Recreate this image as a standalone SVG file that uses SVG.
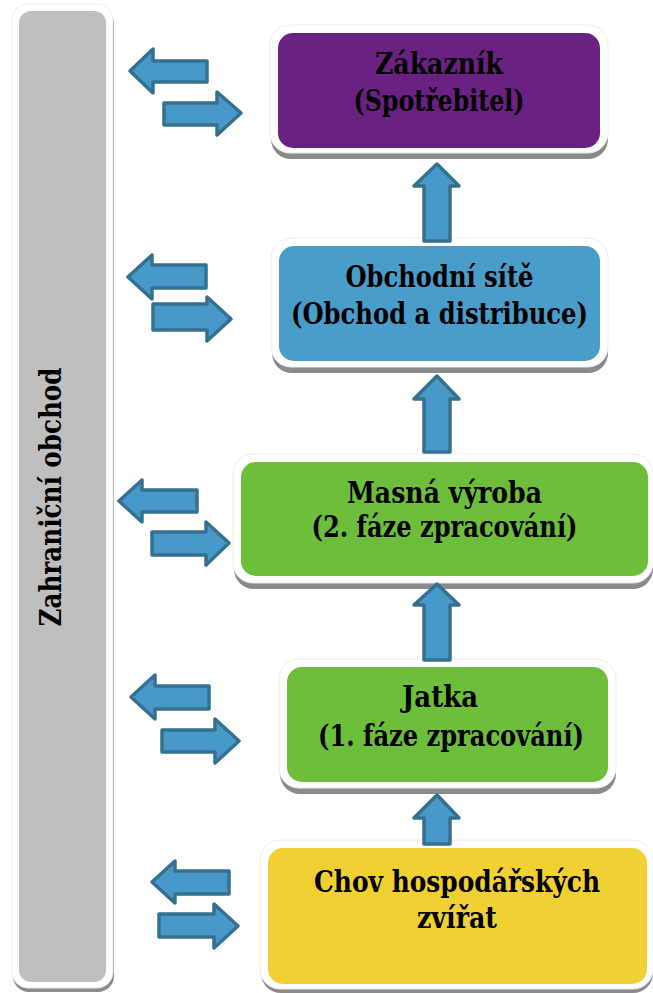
<svg xmlns="http://www.w3.org/2000/svg" width="653" height="993" viewBox="0 0 653 993">
<defs>
<style>
.frame{fill:#ffffff;stroke:#ececec;stroke-width:1}
.shadow{fill:#8a8a8a}
.t{font-family:"DejaVu Serif",serif;font-weight:bold;font-size:29px;fill:#000000;text-anchor:middle}
.arr{fill:#4899C9;stroke:#34708F;stroke-width:3.5;stroke-linejoin:round}
</style>
</defs>
<rect width="653" height="993" fill="#ffffff"/>
<g id="zahranicni">
<rect class="shadow" x="13" y="8" width="101" height="984" rx="16"/>
<rect class="frame" x="12" y="4" width="101" height="984" rx="16"/>
<rect x="19" y="11" width="87" height="971" rx="12" fill="#BFBFBF"/>
<text class="t" transform="translate(61,497) rotate(-90)" textLength="259" lengthAdjust="spacingAndGlyphs">Zahraniční obchod</text>
</g>
<g id="zakaznik">
<rect class="shadow" x="271" y="30" width="337" height="129" rx="20"/>
<rect class="frame" x="270" y="25" width="338" height="128" rx="20"/>
<rect x="278" y="33" width="322" height="115" rx="15" fill="#6B2182"/>
<text class="t" x="439" y="74" textLength="128" lengthAdjust="spacingAndGlyphs">Zákazník</text>
<text class="t" x="439" y="111" textLength="171" lengthAdjust="spacingAndGlyphs">(Spotřebitel)</text>
</g>
<g id="obchodni-site">
<rect class="shadow" x="272" y="243" width="336" height="130" rx="20"/>
<rect class="frame" x="271" y="238" width="337" height="129" rx="20"/>
<rect x="279" y="246" width="321" height="115" rx="15" fill="#4A9CCB"/>
<text class="t" x="439.5" y="287" textLength="188" lengthAdjust="spacingAndGlyphs">Obchodní sítě</text>
<text class="t" x="439.5" y="324" textLength="297" lengthAdjust="spacingAndGlyphs">(Obchod a distribuce)</text>
</g>
<g id="masna-vyroba">
<rect class="shadow" x="234" y="459" width="419" height="130" rx="20"/>
<rect class="frame" x="233" y="454" width="420" height="129" rx="20"/>
<rect x="241" y="462" width="407" height="114" rx="15" fill="#6DBE3A"/>
<text class="t" x="444.5" y="503" textLength="195" lengthAdjust="spacingAndGlyphs">Masná výroba</text>
<text class="t" x="444.5" y="537" textLength="266" lengthAdjust="spacingAndGlyphs">(2. fáze zpracování)</text>
</g>
<g id="jatka">
<rect class="shadow" x="280" y="664" width="336" height="130" rx="20"/>
<rect class="frame" x="279" y="659" width="337" height="129" rx="20"/>
<rect x="287" y="667" width="321" height="115" rx="15" fill="#6DBE3A"/>
<text class="t" x="440" y="707" textLength="76" lengthAdjust="spacingAndGlyphs">Jatka</text>
<text class="t" x="451" y="746" textLength="266" lengthAdjust="spacingAndGlyphs">(1. fáze zpracování)</text>
</g>
<g id="chov">
<rect class="shadow" x="261" y="845" width="392" height="148" rx="20"/>
<rect class="frame" x="260" y="840" width="393" height="149" rx="20"/>
<rect x="268" y="848" width="379" height="136" rx="15" fill="#F0D032"/>
<text class="t" x="457" y="892" textLength="286" lengthAdjust="spacingAndGlyphs">Chov hospodářských</text>
<text class="t" x="457" y="928" textLength="80" lengthAdjust="spacingAndGlyphs">zvířat</text>
</g>
<g id="connectors">
<path class="arr" d="M130,71 L153,49 L153,61 L207,61 L207,82 L153,82 L153,93 Z"/>
<path class="arr" d="M164,103 L217,103 L217,92 L241,113 L217,135 L217,125 L164,125 Z"/>
<path class="arr" d="M128,277 L152,255 L152,265 L206,265 L206,288 L152,288 L152,299 Z"/>
<path class="arr" d="M153,304 L207,304 L207,297 L231,319 L207,341 L207,330 L153,330 Z"/>
<path class="arr" d="M119,501 L142,480 L142,490 L197,490 L197,512 L142,512 L142,522 Z"/>
<path class="arr" d="M152,532 L206,532 L206,522 L229,543 L206,565 L206,555 L152,555 Z"/>
<path class="arr" d="M131,697 L155,675 L155,686 L209,686 L209,709 L155,709 L155,719 Z"/>
<path class="arr" d="M162,730 L215,730 L215,719 L239,741 L215,763 L215,752 L162,752 Z"/>
<path class="arr" d="M152,882 L175,861 L175,871 L229,871 L229,894 L175,894 L175,903 Z"/>
<path class="arr" d="M159,914 L214,914 L214,904 L238,926 L214,948 L214,937 L159,937 Z"/>
<path class="arr" d="M437,164 L459,186 L450,186 L450,241 L424,241 L424,186 L414,186 Z"/>
<path class="arr" d="M437,376 L459,399 L450,399 L450,452 L424,452 L424,399 L414,399 Z"/>
<path class="arr" d="M437,584 L459,605 L450,605 L450,660 L424,660 L424,605 L414,605 Z"/>
<path class="arr" d="M437,795 L459,818 L450,818 L450,844 L424,844 L424,818 L414,818 Z"/>
</g>
</svg>
